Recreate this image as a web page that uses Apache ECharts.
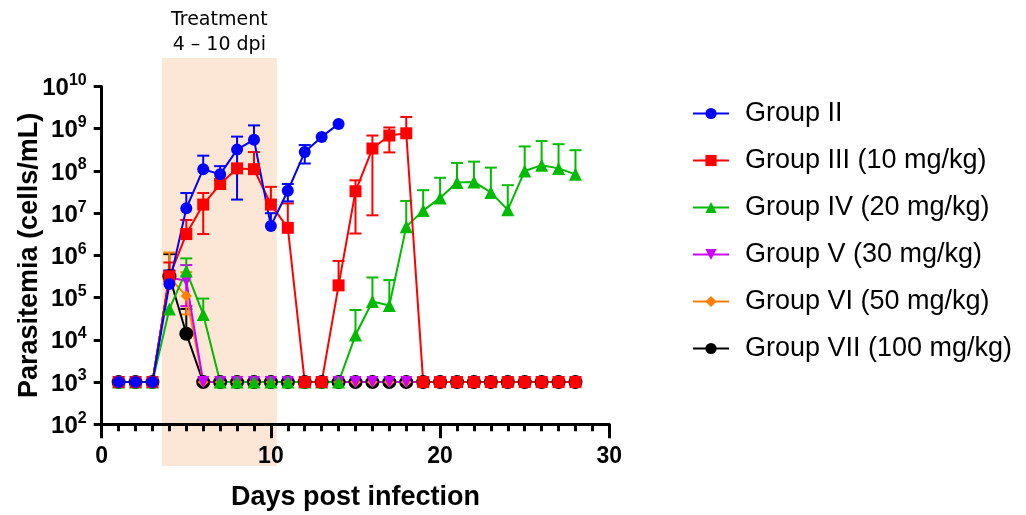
<!DOCTYPE html>
<html>
<head>
<meta charset="utf-8">
<script src="https://cdn.jsdelivr.net/npm/echarts@6/dist/echarts.min.js"></script>
<style>
html, body { margin: 0; padding: 0; background: #fff; }
#chart { width: 1026px; height: 515px; }
</style>
</head>
<body>
<div id="chart"></div>
<script>
// days post infection
const days = [1, 2, 3, 4, 5, 6, 7, 8, 9, 10, 11, 12, 13, 14, 15, 16, 17, 18, 19, 20, 21, 22, 23, 24, 25, 26, 27, 28];

const groupNames = ['Group II', 'Group III (10 mg/kg)', 'Group IV (20 mg/kg)',
    'Group V (30 mg/kg)', 'Group VI (50 mg/kg)', 'Group VII (100 mg/kg)'];

// parasitemia (cells/mL), mean per day
const g2 = [1e3, 1e3, 1e3, 2.1e5, 1.3e7, 1.1e8, 8.3e7, 3.2e8, 5.5e8, 5e6, 3.4e7, 2.8e8, 6.4e8, 1.3e9];
const g3 = [1e3, 1e3, 1e3, 3.2e5, 3.2e6, 1.6e7, 4.9e7, 1.15e8, 1.1e8, 1.6e7, 4.5e6, 1e3, 1e3, 1.95e5,
    3.3e7, 3.4e8, 6.9e8, 7.8e8, 1e3, 1e3, 1e3, 1e3, 1e3, 1e3, 1e3, 1e3, 1e3, 1e3];
const g4 = [1e3, 1e3, 1e3, 5.4e4, 4.3e5, 4e4, 1e3, 1e3, 1e3, 1e3, 1e3, 1e3, 1e3, 1e3,
    1.3e4, 8.1e4, 6.5e4, 4.8e6, 1.15e7, 2.3e7, 5.3e7, 5.5e7, 3.1e7, 1.2e7, 1e8, 1.37e8, 1.15e8, 8.3e7];
const g5 = [1e3, 1e3, 1e3, 3e5, 2.5e5, 1e3, 1e3, 1e3, 1e3, 1e3, 1e3, 1e3, 1e3, 1e3,
    1e3, 1e3, 1e3, 1e3, 1e3, 1e3, 1e3, 1e3, 1e3, 1e3, 1e3, 1e3, 1e3, 1e3];
const g6 = [1e3, 1e3, 1e3, 3e5, 1.1e5, 1e3, 1e3, 1e3, 1e3, 1e3, 1e3, 1e3, 1e3, 1e3,
    1e3, 1e3, 1e3, 1e3, 1e3, 1e3, 1e3, 1e3, 1e3, 1e3, 1e3, 1e3, 1e3, 1e3];
const g7 = [1e3, 1e3, 1e3, 3.2e5, 1.4e4, 1e3, 1e3, 1e3, 1e3, 1e3, 1e3, 1e3, 1e3, 1e3,
    1e3, 1e3, 1e3, 1e3, 1e3, 1e3, 1e3, 1e3, 1e3, 1e3, 1e3, 1e3, 1e3, 1e3];

// error bar ends (upper / lower), null = none drawn
const g2Hi = [null, null, null, 4.4e5, 3e7, 2.3e8, 1.3e8, 6.5e8, 1.2e9, 1e7, 4.9e7, 4.1e8];
const g2Lo = [null, null, null, null, null, null, null, 2.1e7, null, null, 1.9e7, 1.5e8];
const g3Hi = [null, null, null, 6.8e5, 6.9e6, 3e7, 6e7, null, 2.8e8, 4.2e7, 1.7e7, null, null, 7.4e5,
    6e7, 6.9e8, 1.07e9, 1.9e9];
const g3Lo = [null, null, null, null, null, 3.2e6, null, null, null, null, null, null, null, null,
    3.3e6, 8.9e6, 2.75e8];
const g4Hi = [null, null, null, null, 8.5e5, 9.5e4, null, null, null, null, null, null, null, null,
    5.1e4, 3e5, 2.6e5, 1.95e7, 3.5e7, 6.9e7, 1.55e8, 1.66e8, 1.2e8, 4.6e7, 3.8e8, 5.1e8, 4.3e8, 3.1e8];
const g4Lo = [];
const g5Hi = [null, null, null, null, 5.9e5];
const g5Lo = [null, null, null, null, 6.3e4];
const g6Hi = [null, null, null, 1.17e6, 4e5];
const g6Lo = [null, null, null, null, 4e4];
const g7Hi = [null, null, null, 1.07e6, 5.4e4];
const g7Lo = [];

const treatStart = 3.55, treatEnd = 10.35;

const FONT = '"Liberation Sans", Arial, sans-serif';

const groups = [
    { name: groupNames[0], color: '#0000ff', symbol: 'circle', size: 12, rot: 0, vals: g2, hi: g2Hi, lo: g2Lo },
    { name: groupNames[1], color: '#ff0000', symbol: 'rect', size: 12, rot: 0, vals: g3, hi: g3Hi, lo: g3Lo },
    { name: groupNames[2], color: '#00bb00', symbol: 'triangle', size: 13, rot: 0, vals: g4, hi: g4Hi, lo: g4Lo },
    { name: groupNames[3], color: '#cc00ff', symbol: 'triangle', size: 12, rot: 180, vals: g5, hi: g5Hi, lo: g5Lo },
    { name: groupNames[4], color: '#ff8000', symbol: 'diamond', size: 11, rot: 0, vals: g6, hi: g6Hi, lo: g6Lo },
    { name: groupNames[5], color: '#000000', symbol: 'circle', size: 14, rot: 0, vals: g7, hi: g7Hi, lo: g7Lo }
];

function errorSeries(g) {
    const data = [];
    g.vals.forEach((v, i) => {
        if (v == null) return;
        const h = g.hi[i], l = g.lo[i];
        if (h == null && l == null) return;
        data.push([days[i], v, l == null ? v : l, h == null ? v : h]);
    });
    return {
        type: 'custom',
        name: g.name + ' SD',
        silent: true,
        data: data,
        encode: { x: 0, y: [1, 2, 3] },
        renderItem: function (params, api) {
            const x = api.value(0);
            const bot = api.coord([x, api.value(2)]);
            const top = api.coord([x, api.value(3)]);
            const w = 6;
            const st = { stroke: g.color, lineWidth: 2 };
            const kids = [{ type: 'line', shape: { x1: top[0], y1: top[1], x2: bot[0], y2: bot[1] }, style: st }];
            if (api.value(3) !== api.value(1)) {
                kids.push({ type: 'line', shape: { x1: top[0] - w, y1: top[1], x2: top[0] + w, y2: top[1] }, style: st });
            }
            if (api.value(2) !== api.value(1)) {
                kids.push({ type: 'line', shape: { x1: bot[0] - w, y1: bot[1], x2: bot[0] + w, y2: bot[1] }, style: st });
            }
            return { type: 'group', children: kids };
        }
    };
}

function lineSeries(g) {
    const data = [];
    g.vals.forEach((v, i) => { if (v != null) data.push([days[i], v]); });
    return {
        type: 'line',
        name: g.name,
        data: data,
        symbol: g.symbol,
        symbolSize: g.size,
        symbolRotate: g.rot,
        showAllSymbol: true,
        lineStyle: { color: g.color, width: 2 },
        itemStyle: { color: g.color },
        emphasis: { disabled: true },
        animation: false
    };
}

// later groups underneath, Group II on top
const series = [];
groups.slice().reverse().forEach(g => {
    series.push(errorSeries(g));
    series.push(lineSeries(g));
});

const chart = echarts.init(document.getElementById('chart'));

chart.setOption({
    animation: false,
    backgroundColor: '#ffffff',
    grid: { left: 101.7, right: 416.7, top: 86.5, bottom: 90.7, containLabel: false, outerBoundsMode: 'none' },
    legend: {
        data: groupNames,
        orient: 'vertical',
        left: 687,
        top: 95,
        itemWidth: 36,
        itemHeight: 14,
        itemGap: 20,
        textStyle: { fontFamily: FONT, fontSize: 27, color: '#000', padding: [0, 0, 0, 11] },
        selectedMode: false
    },
    xAxis: {
        type: 'value',
        min: 0,
        max: 30,
        interval: 10,
        name: 'Days post infection',
        nameLocation: 'middle',
        nameGap: 60,
        nameMoveOverlap: false,
        nameTextStyle: { fontFamily: FONT, fontSize: 27, fontWeight: 'bold', color: '#000' },
        axisLine: { lineStyle: { color: '#000', width: 3 } },
        axisTick: { length: 14, lineStyle: { width: 3, color: '#000' } },
        minorTick: { show: true, splitNumber: 10, length: 7, lineStyle: { width: 3, color: '#000' } },
        splitLine: { show: false },
        axisLabel: { fontFamily: FONT, fontSize: 23, fontWeight: 'bold', color: '#000', margin: 21 }
    },
    yAxis: {
        type: 'log',
        logBase: 10,
        min: 100,
        max: 1e10,
        splitNumber: 8,
        name: 'Parasitemia (cells/mL)',
        nameLocation: 'middle',
        nameGap: 59,
        nameMoveOverlap: false,
        nameTextStyle: { fontFamily: FONT, fontSize: 27, fontWeight: 'bold', color: '#000' },
        axisLine: { show: true, lineStyle: { color: '#000', width: 3 } },
        axisTick: { show: true, length: 8, lineStyle: { width: 3, color: '#000' } },
        splitLine: { show: false },
        axisLabel: {
            margin: 15,
            formatter: v => '{b|10}{s|' + Math.round(Math.log10(v)) + '}',
            rich: {
                b: { fontFamily: FONT, fontSize: 24, fontWeight: 'bold', color: '#000', lineHeight: 28, verticalAlign: 'bottom' },
                s: { fontFamily: FONT, fontSize: 16, fontWeight: 'bold', color: '#000', lineHeight: 16, verticalAlign: 'top' }
            }
        }
    },
    series: series
});

// treatment window shading, placed through the x scale
const xa = chart.convertToPixel({ xAxisIndex: 0 }, treatStart);
const xb = chart.convertToPixel({ xAxisIndex: 0 }, treatEnd);
const xc = (xa + xb) / 2;
chart.setOption({
    graphic: [
        { type: 'rect', z: -10, silent: true, shape: { x: xa, y: 58, width: xb - xa, height: 408 }, style: { fill: '#fce7d7' } },
        { type: 'text', silent: true, x: xc, y: 20, style: { text: 'Treatment', fontFamily: '"DejaVu Sans", Verdana, sans-serif', fontSize: 19, fill: '#000', align: 'center', verticalAlign: 'middle' } },
        { type: 'text', silent: true, x: xc, y: 45, style: { text: '4 \u2013 10 dpi', fontFamily: '"DejaVu Sans", Verdana, sans-serif', fontSize: 19, fill: '#000', align: 'center', verticalAlign: 'middle' } }
    ]
});
</script>
</body>
</html>
